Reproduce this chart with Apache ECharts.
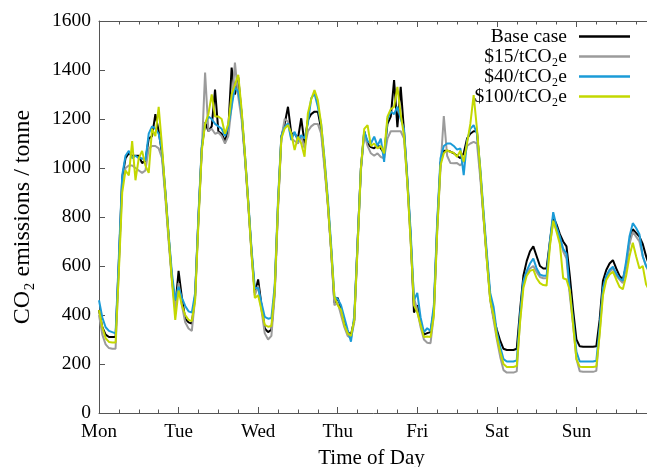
<!DOCTYPE html>
<html><head><meta charset="utf-8">
<script src="https://cdn.jsdelivr.net/npm/echarts@6/dist/echarts.min.js"></script>
<style>html,body{margin:0;padding:0;background:#fff}#c{width:647px;height:467px}</style>
</head><body><div id="c"></div>
<script>
const days = ['Mon','Tue','Wed','Thu','Fri','Sat','Sun'];
const seriesNames = ['Base case', '$15/tCO\u2082e', '$40/tCO\u2082e', '$100/tCO\u2082e'];
const yTicks = [0,200,400,600,800,1000,1200,1400,1600];

// hourly CO2 emissions (tonne), Mon 00:00 .. Sun 23:00
const baseCase = [
 420,350,320,310,310,310, 620,960,1040,1060,1050,1050, 1050,1020,1030,1120,1130,1220, 1150,1060,900,720,550,430,
 580,470,385,370,365,480, 800,1080,1185,1150,1170,1320, 1150,1140,1110,1160,1410,1300, 1370,1220,1050,860,660,490,
 545,440,345,330,340,500, 850,1128,1180,1250,1140,1141, 1120,1203,1100,1196,1220,1230, 1230,1160,1020,860,670,450,
 470,420,370,330,320,380, 700,1000,1150,1100,1085,1080, 1095,1080,1060,1180,1210,1359, 1167,1331,1150,950,720,410,
 440,370,320,326,330,420, 760,1020,1070,1070,1067,1060, 1050,1040,1060,1120,1140,1150, 1150,980,800,630,470,390,
 340,295,262,257,257,257, 262,420,560,620,660,680, 640,600,590,590,700,800, 770,730,700,680,560,420,
 300,272,270,270,270,270, 272,380,540,584,610,624, 590,560,545,600,700,750, 735,720,690,640,600,560
];
const price15 = [
 400,320,280,265,262,262, 600,930,1000,1010,1010,1000, 990,980,990,1080,1090,1090, 1080,1040,880,700,540,420,
 530,440,370,345,335,470, 790,1070,1390,1150,1160,1140, 1145,1130,1100,1130,1250,1430, 1290,1200,1040,850,650,480,
 520,420,325,300,315,480, 830,1120,1200,1190,1120,1110, 1100,1130,1080,1150,1170,1180, 1180,1140,1000,850,660,440,
 450,400,350,315,305,370, 680,990,1140,1090,1060,1050, 1060,1045,1040,1120,1150,1150, 1150,1150,1120,940,700,470,
 420,350,300,287,285,400, 740,1000,1212,1050,1020,1019, 1020,1010,1030,1090,1100,1107, 1100,960,790,620,460,380,
 300,230,175,165,165,165, 170,380,530,570,590,600, 575,555,550,550,690,780, 750,710,660,630,480,360,
 220,170,168,168,168,168, 172,330,500,550,575,590, 560,545,530,600,690,740, 720,700,640,600,570,530
];
const price40 = [
 460,390,350,335,330,325, 640,970,1050,1070,1040,1050, 1040,1040,1030,1140,1170,1160, 1140,1070,910,730,570,460,
 515,470,437,415,410,490, 810,1090,1180,1210,1200,1180, 1170,1160,1130,1170,1250,1330, 1310,1230,1060,870,670,510,
 510,450,392,385,388,520, 870,1130,1168,1182,1114,1148, 1110,1134,1120,1182,1284,1304, 1250,1180,1040,880,690,475,
 465,440,390,340,291,400, 700,1000,1150,1110,1100,1128, 1090,1120,1025,1200,1230,1220, 1250,1200,1160,960,740,460,
 490,390,330,346,335,440, 780,1040,1090,1100,1100,1090, 1075,1080,971,1110,1160,1175, 1140,1000,820,650,490,434,
 330,270,220,210,210,210, 215,400,540,580,610,630, 590,565,560,560,700,820, 760,720,670,650,500,380,
 250,210,210,210,210,210, 213,350,510,560,585,597, 570,550,540,620,720,775, 755,730,640,600,580,540
];
const price100 = [
 420,350,305,290,288,288, 580,900,990,970,1110,950, 1040,1070,1010,980,1160,1130, 1250,1090,900,720,540,380,
 500,440,400,380,375,460, 780,1070,1180,1220,1300,1210, 1210,1200,1140,1180,1300,1340, 1380,1240,1060,860,650,470,
 480,420,360,352,355,500, 850,1120,1161,1175,1141,1073, 1128,1100,1046,1223,1280,1318, 1277,1180,1030,860,670,475,
 440,420,360,325,315,380, 680,1000,1160,1175,1090,1100, 1080,1090,1060,1210,1240,1250, 1331,1220,1130,940,700,440,
 410,360,310,312,310,400, 740,1010,1060,1073,1065,1062, 1046,1070,1026,1100,1180,1298, 1160,990,800,620,460,400,
 310,250,200,188,188,188, 192,370,510,560,580,585, 550,530,522,520,680,785, 740,690,550,545,500,360,
 220,189,188,188,188,188, 190,320,480,543,565,577, 545,515,505,560,640,695, 640,590,600,525,500,470
];

const colors = ['#000000', '#9b9b9b', '#1b9bd7', '#c3d800'];
const FONT = 'Liberation Serif';
const allData = [baseCase, price15, price40, price100];
const toPairs = arr => arr.map((v, h) => [h, v]);

const xCommon = {
  type: 'value', min: 0, max: 168, interval: 24,
  axisLine: { show: true, lineStyle: { color: '#555', width: 1 } },
  axisTick: { show: true, inside: true, length: 6, lineStyle: { color: '#555' } },
  minorTick: { show: true, splitNumber: 4, length: 3.5, lineStyle: { color: '#555' } },
  splitLine: { show: false }, minorSplitLine: { show: false }
};

const chart = echarts.init(document.getElementById('c'), null, { renderer: 'canvas' });
chart.setOption({
  animation: false,
  backgroundColor: '#fff',
  grid: { left: 99, width: 557, top: 21, height: 392, containLabel: false, outerBoundsMode: 'none' },
  legend: {
    data: seriesNames, orient: 'vertical', right: 17, top: 26.5, align: 'right',
    icon: 'rect', itemWidth: 51, itemHeight: 2.5, itemGap: 0, padding: 0,
    textStyle: { fontFamily: FONT, fontSize: 19.5, lineHeight: 18.9, color: '#000', padding: [0, 7, 0, 0] }
  },
  xAxis: [
    Object.assign({}, xCommon, {
      position: 'bottom',
      name: 'Time of Day', nameLocation: 'middle', nameGap: 35,
      nameTextStyle: { fontFamily: FONT, fontSize: 21, color: '#000', padding: [0, 12, 0, 0] },
      axisLabel: { show: true, margin: 10, fontFamily: FONT, fontSize: 19, color: '#000',
        formatter: v => days[v / 24] || '' }
    }),
    Object.assign({}, xCommon, { position: 'top', axisLabel: { show: false } })
  ],
  yAxis: {
    type: 'value', min: yTicks[0], max: yTicks[yTicks.length - 1], interval: 200,
    name: 'CO\u2082 emissions / tonne', nameLocation: 'middle', nameGap: 64, nameRotate: 90,
    nameTextStyle: { fontFamily: FONT, fontSize: 24, color: '#000' },
    axisLine: { show: true, lineStyle: { color: '#555', width: 1 } },
    axisTick: { show: true, inside: true, length: 6, lineStyle: { color: '#555' } },
    splitLine: { show: false },
    axisLabel: { margin: 8, fontFamily: FONT, fontSize: 19.5, color: '#000',
      formatter: v => String(v) }
  },
  series: seriesNames.map((name, i) => ({
    name, type: 'line', data: toPairs(allData[i]), xAxisIndex: 0,
    symbol: 'none', showSymbol: false, smooth: false,
    lineStyle: { color: colors[i], width: 2 }, itemStyle: { color: colors[i] },
    z: 2 + i
  }))
});
</script></body></html>
